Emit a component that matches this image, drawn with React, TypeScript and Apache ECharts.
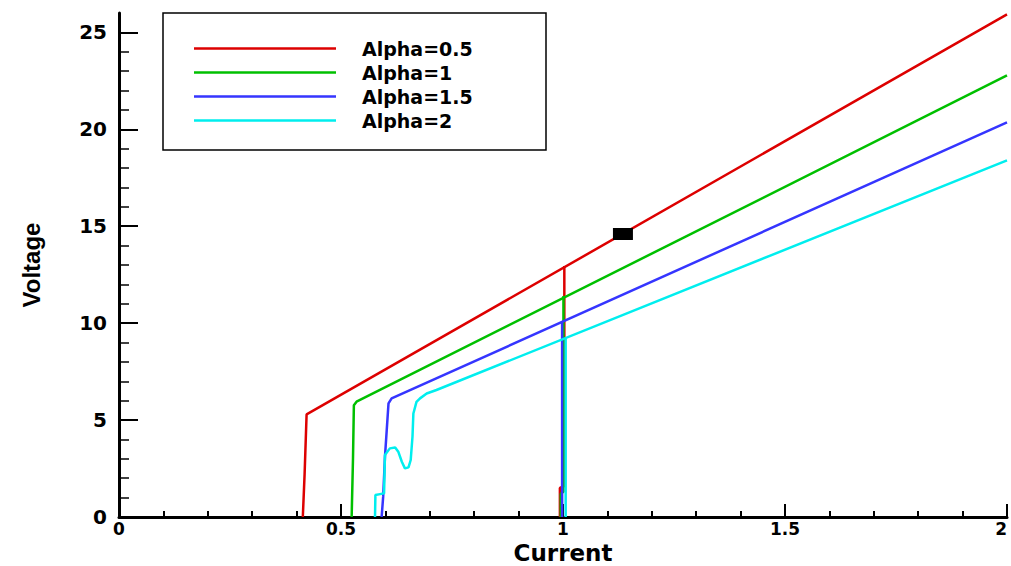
import React, { useEffect, useRef } from 'react';
import * as echarts from 'echarts';

const seriesNames = ['Alpha=0.5', 'Alpha=1', 'Alpha=1.5', 'Alpha=2'];
const seriesColors = ['#dd0000', '#00c000', '#3535ff', '#00eeee'];

// rising branches (threshold jump then linear growth)
const riseRed = [[0.414, 0], [0.418, 2.2], [0.4225, 5.29], [2, 25.93]];
const riseGreen = [[0.524, 0], [0.527, 3.0], [0.529, 5.77], [0.535, 5.95], [2, 22.78]];
const riseBlue = [[0.5915, 0], [0.595, 1.05], [0.599, 3.1], [0.603, 4.48], [0.607, 5.86], [0.614, 6.12], [2, 20.36]];
const riseCyan = [
  [0.5766, 0], [0.5775, 1.13], [0.588, 1.18], [0.597, 1.22], [0.599, 3.2], [0.61, 3.54],
  [0.622, 3.59], [0.629, 3.37], [0.637, 2.85], [0.644, 2.51], [0.652, 2.56], [0.657, 2.94],
  [0.661, 4.14], [0.663, 5.34], [0.67, 5.94], [0.678, 6.12], [0.693, 6.37], [0.715, 6.55], [2, 18.4],
];

// vertical branches at Current = 1
const dropRed = [[0.993, 0], [0.993, 1.5], [1.003, 1.6], [1.003, 12.95]];
const dropGreen = [[0.995, 0], [0.995, 1.2], [1.001, 1.3], [1.001, 11.4]];
const dropBlue = [[0.998, 0], [0.998, 10.1]];
const dropCyan = [[1.006, 0], [1.006, 9.2]];

const probePoint = [[1.135, 14.6]];

const yTickValues = [0, 5, 10, 15, 20, 25];

export default function App() {
  const ref = useRef<HTMLDivElement>(null);
  useEffect(() => {
    const chart = echarts.init(ref.current as HTMLDivElement, null, { renderer: 'svg' });
    const rises = [riseRed, riseGreen, riseBlue, riseCyan];
    const drops = [dropRed, dropGreen, dropBlue, dropCyan];
    const series: any[] = [];
    seriesNames.forEach((name, i) => {
      const color = seriesColors[i];
      const common = {
        type: 'line',
        name,
        symbol: 'none',
        showSymbol: false,
        lineStyle: { color, width: 2.5 },
        itemStyle: { color },
        z: 2 + i,
      };
      series.push({ ...common, data: rises[i] });
      series.push({ ...common, data: drops[i] });
    });
    series.push({
      type: 'scatter',
      name: 'probe',
      data: probePoint,
      symbol: 'rect',
      symbolSize: [20, 12],
      itemStyle: { color: '#000', opacity: 1 },
      z: 10,
    });

    const tickFont = { fontFamily: 'DejaVu Sans', fontWeight: 'bold', color: '#000' };

    chart.setOption({
      animation: false,
      backgroundColor: '#fff',
      grid: { left: 119, right: 4, top: 13, bottom: 49, containLabel: false, outerBoundsMode: 'none' },
      legend: {
        data: seriesNames,
        orient: 'vertical',
        left: 163,
        top: 13,
        padding: [26, 34, 20, 31],
        icon: 'rect',
        itemWidth: 142,
        itemHeight: 2.5,
        itemGap: 5,
        borderColor: '#000',
        borderWidth: 1.5,
        backgroundColor: '#fff',
        selectedMode: false,
        textStyle: {
          fontFamily: 'DejaVu Sans',
          fontWeight: 'bold',
          fontSize: 19,
          color: '#000',
          lineHeight: 14,
          width: 150,
          padding: [0, 0, 0, 21],
        },
      },
      xAxis: {
        type: 'value',
        min: 0,
        max: 2,
        interval: 0.5,
        name: 'Current',
        nameLocation: 'middle',
        nameGap: 24,
        nameMoveOverlap: false,
        nameTextStyle: { fontFamily: 'DejaVu Sans', fontWeight: 'bold', fontSize: 23, lineHeight: 23, color: '#000' },
        axisLine: { show: true, lineStyle: { color: '#000', width: 3 } },
        axisTick: { show: true, inside: true, length: 13, lineStyle: { color: '#000', width: 2 } },
        minorTick: { show: true, splitNumber: 5, length: 6, lineStyle: { color: '#000', width: 2 } },
        splitLine: { show: false },
        axisLabel: { ...tickFont, fontSize: 17, lineHeight: 17, margin: 3, alignMaxLabel: 'right' },
      },
      yAxis: {
        type: 'value',
        min: 0,
        max: 26,
        interval: 5,
        name: 'Voltage',
        nameLocation: 'middle',
        nameGap: 76,
        nameMoveOverlap: false,
        nameRotate: 90,
        nameTextStyle: {
          fontFamily: "'Liberation Sans Narrow', 'Liberation Sans', Arial",
          fontWeight: 'bold',
          fontSize: 24,
          color: '#000',
        },
        axisLine: { show: true, lineStyle: { color: '#000', width: 3 } },
        axisTick: {
          show: true,
          inside: true,
          length: 19,
          customValues: yTickValues,
          lineStyle: { color: '#000', width: 2 },
        },
        minorTick: { show: true, splitNumber: 5, length: 10, lineStyle: { color: '#000', width: 1.5 } },
        splitLine: { show: false },
        axisLabel: { ...tickFont, fontSize: 20, margin: 12, customValues: yTickValues },
      },
      series,
    });
    return () => chart.dispose();
  }, []);
  return <div ref={ref} style={{ position: 'absolute', left: 0, top: 0, width: 1011, height: 566 }} />;
}
